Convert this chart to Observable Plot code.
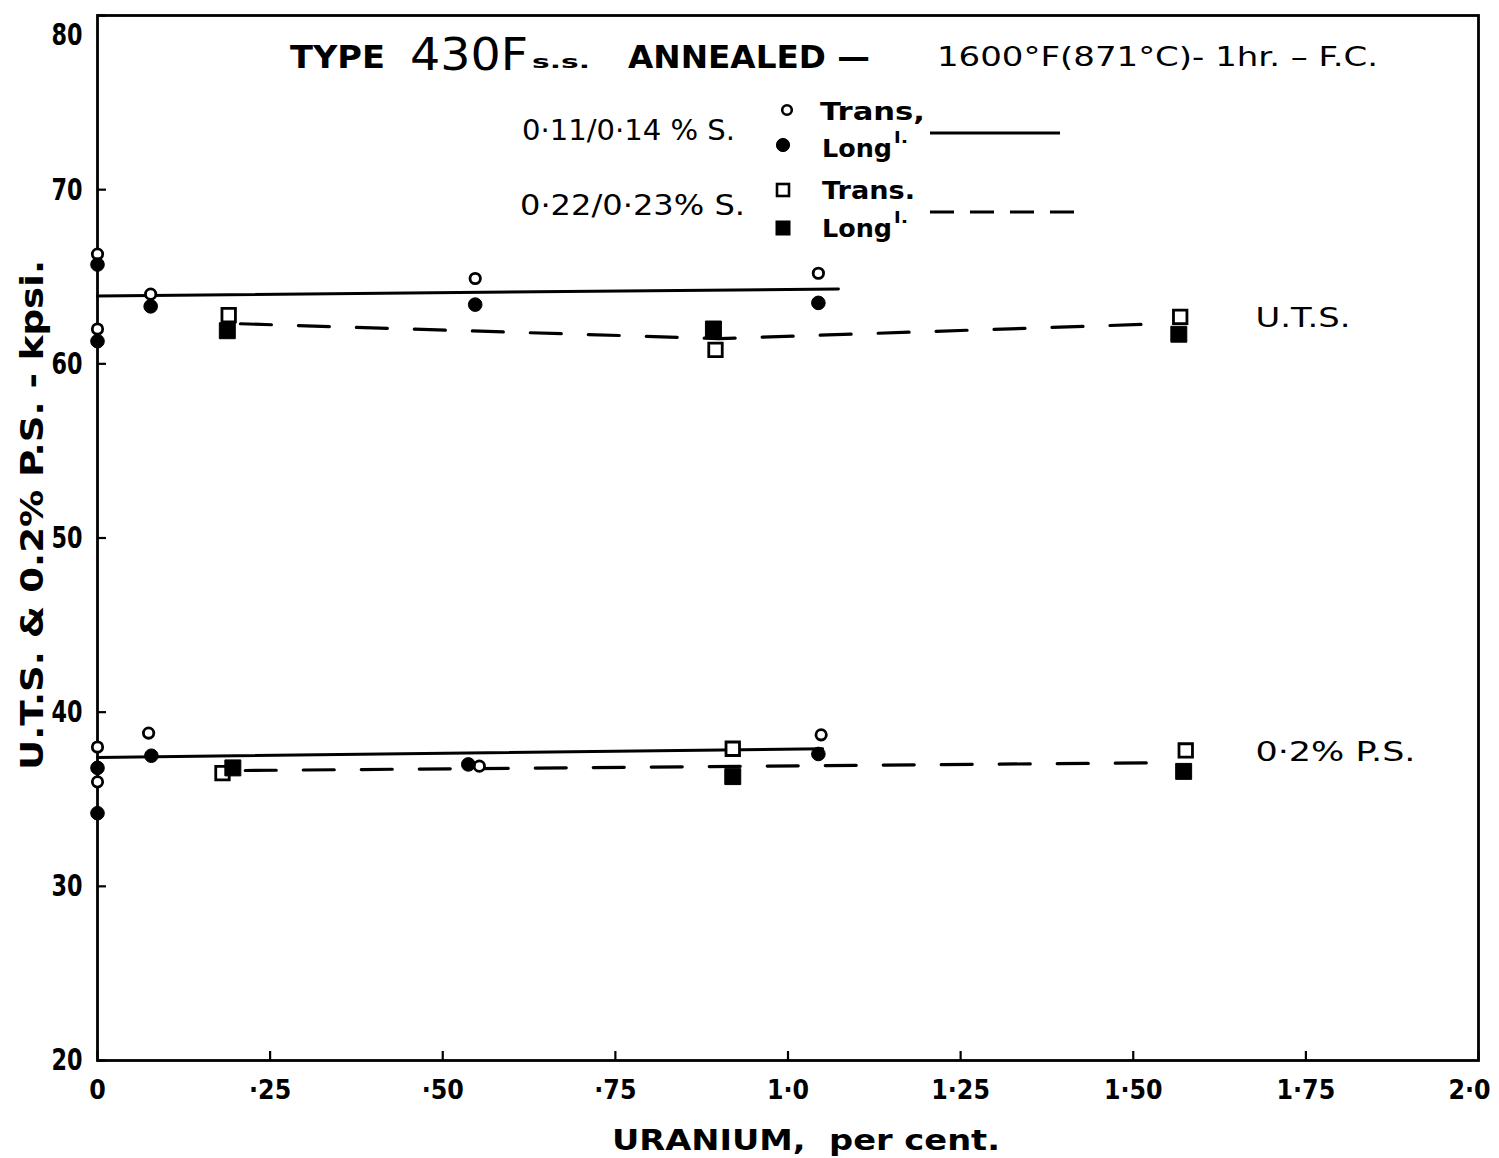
<!DOCTYPE html>
<html><head><meta charset="utf-8">
<script src="https://cdn.jsdelivr.net/npm/d3@7"></script>
<script src="https://cdn.jsdelivr.net/npm/@observablehq/plot@0.6"></script>
<style>body{margin:0;background:#fff} #chart svg{display:block}
#chart g[aria-label="x-axis tick label"] text{font-size:27px;font-weight:bold}
#chart g[aria-label="y-axis tick label"] text{font-size:31px;font-weight:bold}
</style>
</head><body><div id="chart"></div>
<script>
// ---- axis ticks ----
const xTicks = [0, 0.25, 0.5, 0.75, 1.0, 1.25, 1.5, 1.75, 2.0];
const xTickLabels = ["0", "·25", "·50", "·75", "1·0", "1·25", "1·50", "1·75", "2·0"];
const yTicks = [20, 30, 40, 50, 60, 70, 80];

// ---- U.T.S., 0.11/0.14 % S ----
const utsLowTransX = [0, 0, 0.077, 0.547, 1.044];
const utsLowTransY = [66.3, 62.0, 64.0, 64.9, 65.2];
const utsLowLongX  = [0, 0, 0.077, 0.547, 1.044];
const utsLowLongY  = [65.7, 61.3, 63.3, 63.4, 63.5];
// ---- U.T.S., 0.22/0.23 % S ----
const utsHighTransX = [0.19, 0.895, 1.568];
const utsHighTransY = [62.8, 60.8, 62.7];
const utsHighLongX  = [0.188, 0.892, 1.566];
const utsHighLongY  = [61.9, 62.0, 61.7];
// ---- 0.2% P.S., 0.11/0.14 % S ----
const psLowTransX = [0, 0, 0.074, 0.553, 1.048];
const psLowTransY = [38.0, 36.0, 38.8, 36.9, 38.7];
const psLowLongX  = [0, 0, 0.078, 0.537, 1.044];
const psLowLongY  = [36.8, 34.2, 37.5, 37.0, 37.6];
// ---- 0.2% P.S., 0.22/0.23 % S ----
const psHighTransX = [0.181, 0.92, 1.576];
const psHighTransY = [36.5, 37.9, 37.8];
const psHighLongX  = [0.196, 0.92, 1.573];
const psHighLongY  = [36.8, 36.3, 36.6];

// ---- drawn trend lines ----
const utsLowLineX  = [0, 1.073];
const utsLowLineY  = [63.9, 64.3];
const utsHighLineX = [0.207, 0.9, 1.54];
const utsHighLineY = [62.3, 61.45, 62.3];
const psLowLineX   = [0, 1.05];
const psLowLineY   = [37.4, 37.9];
const psHighLineX  = [0.214, 1.554];
const psHighLineY  = [36.65, 37.1];

const zip = (xs, ys, id) => xs.map((x, i) => ({x, y: ys[i], id}));

const openCircles  = [...zip(utsLowTransX, utsLowTransY), ...zip(psLowTransX, psLowTransY)];
const fullCircles  = [...zip(utsLowLongX, utsLowLongY), ...zip(psLowLongX, psLowLongY)];
const openSquares  = [...zip(utsHighTransX, utsHighTransY), ...zip(psHighTransX, psHighTransY)];
const fullSquares  = [...zip(utsHighLongX, utsHighLongY), ...zip(psHighLongX, psHighLongY)];
const solidLines   = [...zip(utsLowLineX, utsLowLineY, "uts"), ...zip(psLowLineX, psLowLineY, "ps")];
const dashedLines  = [...zip(utsHighLineX, utsHighLineY, "uts"), ...zip(psHighLineX, psHighLineY, "ps")];

const curveLabels = [
  {x: 1.677, y: 62.6, text: "U.T.S."},
  {x: 1.677, y: 37.7, text: "0·2% P.S."}
];

const FONT = "DejaVu Sans";

const plot = Plot.plot({
  width: 1499,
  height: 1158,
  marginLeft: 97,
  marginRight: 21,
  marginTop: 15,
  marginBottom: 98,
  style: {fontFamily: FONT, background: "white", color: "black"},
  x: {domain: [0, 2], ticks: xTicks},
  y: {domain: [20, 80], ticks: yTicks},
  marks: [
    Plot.frame({stroke: "black", strokeWidth: 2.8}),
    Plot.axisX({ticks: xTicks, tickSize: -9, tickPadding: 28,
                tickFormat: d => xTickLabels[xTicks.indexOf(d)], label: null, strokeWidth: 2.2}),
    Plot.axisY({ticks: yTicks, tickSize: -9, tickPadding: 24,
                label: null, strokeWidth: 2.2}),
    Plot.line(solidLines, {x: "x", y: "y", z: "id", stroke: "black", strokeWidth: 3}),
    Plot.line(dashedLines, {x: "x", y: "y", z: "id", stroke: "black", strokeWidth: 3.2,
                            strokeDasharray: "31,27"}),
    Plot.dot(openSquares, {x: "x", y: "y", symbol: "square", r: 7.6, fill: "white", stroke: "black", strokeWidth: 2.8}),
    Plot.dot(fullSquares, {x: "x", y: "y", symbol: "square", r: 9, fill: "black", stroke: "black", strokeWidth: 1}),
    Plot.dot(openCircles, {x: "x", y: "y", symbol: "circle", r: 5.2, fill: "white", stroke: "black", strokeWidth: 2.8}),
    Plot.dot(fullCircles, {x: "x", y: "y", symbol: "circle", r: 6.8, fill: "black", stroke: "black", strokeWidth: 1}),
    Plot.text(curveLabels, {x: "x", y: "y", text: "text", textAnchor: "start", fontSize: 27, fill: "black"})
  ]
});

// ---- annotations: title, legend, axis titles ----
const svg = d3.select(plot);
const g = svg.append("g").attr("font-family", FONT).attr("fill", "black").attr("font-weight", "bold");
function txt(x, y, s, size, width, anchor = "start", weight) {
  const t = g.append("text").attr("x", x).attr("y", y).attr("font-size", size)
    .attr("text-anchor", anchor).text(s);
  if (width) t.attr("textLength", width).attr("lengthAdjust", "spacingAndGlyphs");
  if (weight) t.attr("font-weight", weight);
  return t;
}
// title
txt(290, 68, "TYPE", 32, 95);
txt(410, 70, "430F", 44, 118, "start", "normal");
txt(532, 68, "s.s.", 17, 58);
txt(628, 68, "ANNEALED —", 32, 242);
txt(937, 66, "1600°F(871°C)- 1hr. – F.C.", 27, 441, "start", "normal");

// legend
txt(522, 140, "0·11/0·14 % S.", 28, 213, "start", "normal");
txt(820, 120, "Trans,", 25, 105);
txt(822, 157, "Long", 25, 70);
txt(894, 143, "l.", 16, 14);
txt(520, 215, "0·22/0·23% S.", 28, 225, "start", "normal");
txt(822, 199, "Trans.", 25, 93);
txt(822, 237, "Long", 25, 70);
txt(894, 223, "l.", 16, 14);
const lg = svg.append("g").attr("stroke", "black");
lg.append("circle").attr("cx", 787).attr("cy", 110).attr("r", 4.8).attr("fill", "white").attr("stroke-width", 2.6);
lg.append("circle").attr("cx", 783).attr("cy", 145).attr("r", 6.6).attr("fill", "black");
lg.append("rect").attr("x", 777).attr("y", 184).attr("width", 12).attr("height", 12).attr("fill", "white").attr("stroke-width", 2.6);
lg.append("rect").attr("x", 776).attr("y", 221).attr("width", 14).attr("height", 14).attr("fill", "black");
lg.append("line").attr("x1", 930).attr("x2", 1060).attr("y1", 133).attr("y2", 133).attr("stroke-width", 2.8);
lg.append("line").attr("x1", 930).attr("x2", 1075).attr("y1", 212).attr("y2", 212).attr("stroke-width", 2.8)
  .attr("stroke-dasharray", "24,16");

// curve label widths
svg.selectAll('g[aria-label="text"] text').each(function(d, i) {
  d3.select(this).attr("textLength", [95, 160][i]).attr("lengthAdjust", "spacingAndGlyphs");
});

// axis titles
txt(806, 1150, "URANIUM,  per cent.", 28, 388, "middle");
g.append("text").attr("transform", "translate(43,515) rotate(-90)")
  .attr("text-anchor", "middle").attr("font-size", 32)
  .attr("textLength", 510).attr("lengthAdjust", "spacingAndGlyphs")
  .text("U.T.S. & 0.2% P.S. - kpsi.");

document.getElementById("chart").appendChild(plot);

// condense tick labels to the narrow lettering of the original
svg.selectAll('g[aria-label="y-axis tick label"] text').each(function() {
  const w = this.getComputedTextLength();
  this.setAttribute("textLength", w * 0.72);
  this.setAttribute("lengthAdjust", "spacingAndGlyphs");
  if (this.textContent === "80") this.setAttribute("dy", "0.62em");
});
svg.selectAll('g[aria-label="x-axis tick label"] text').each(function() {
  const w = this.getComputedTextLength();
  this.setAttribute("textLength", w * 0.88);
  this.setAttribute("lengthAdjust", "spacingAndGlyphs");
  if (this.textContent === "2·0") this.setAttribute("dx", "-9");
});
</script>
</body></html>
